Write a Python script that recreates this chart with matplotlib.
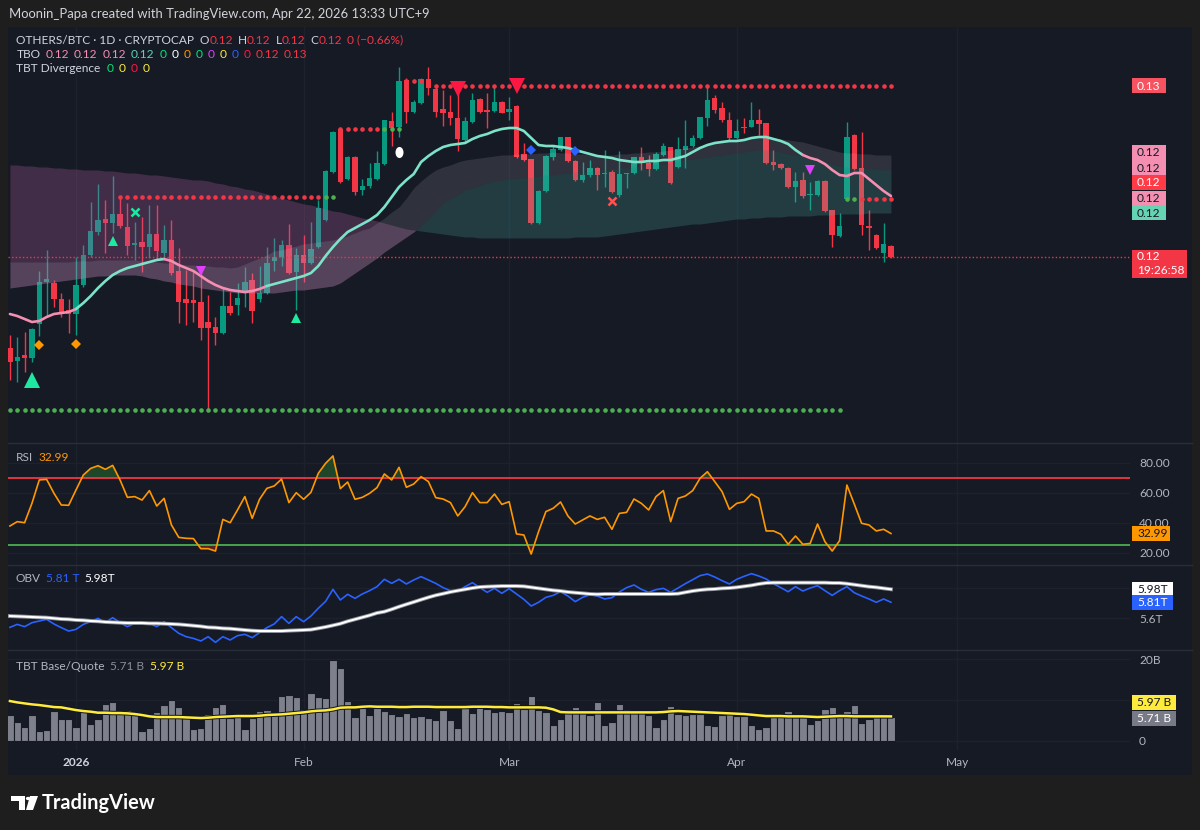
import numpy as np
import matplotlib
matplotlib.use("Agg")
import matplotlib.pyplot as plt
import matplotlib.dates as mdates
from matplotlib.patches import Rectangle, Polygon, Circle
from matplotlib.path import Path
from matplotlib.lines import Line2D

plt.rcParams['font.family'] = ['Lato', 'DejaVu Sans']

# ---------------------------------------------------------------- data
first_day = np.datetime64('2025-12-23')          # daily bars, Dec 23 2025 .. Apr 22 2026
n_bars = 121
dates = first_day + np.arange(n_bars)

# OTHERS/BTC prices, in units of 1e-4
open_e4 = [1072, 1059, 1065, 1062, 1096, 1138, 1137, 1121, 1110, 1106,
           1135, 1165, 1188, 1201, 1197, 1206, 1193, 1175, 1178, 1173,
           1186, 1167, 1180, 1149, 1121, 1120, 1118, 1098, 1093, 1087,
           1114, 1115, 1127, 1140, 1121, 1127, 1159, 1163, 1175, 1148,
           1165, 1157, 1173, 1200, 1248, 1291, 1241, 1263, 1230, 1234,
           1241, 1256, 1299, 1293, 1340, 1308, 1317, 1341, 1331, 1311,
           1308, 1302, 1280, 1298, 1321, 1310, 1309, 1318, 1308, 1314,
           1266, 1261, 1197, 1229, 1263, 1270, 1283, 1259, 1240, 1245,
           1252, 1246, 1248, 1225, 1246, 1247, 1263, 1257, 1251, 1265,
           1273, 1253, 1270, 1274, 1282, 1302, 1322, 1312, 1300, 1282,
           1293, 1293, 1300, 1297, 1258, 1256, 1252, 1233, 1240, 1225,
           1225, 1239, 1210, 1184, 1221, 1285, 1252, 1194, 1185, 1167,
           1174]
high_e4 = [1085, 1083, 1088, 1092, 1149, 1170, 1140, 1127, 1121, 1163,
           1175, 1218, 1236, 1220, 1244, 1224, 1217, 1198, 1203, 1215,
           1215, 1195, 1200, 1172, 1150, 1150, 1147, 1125, 1103, 1132,
           1128, 1137, 1153, 1147, 1154, 1173, 1182, 1180, 1196, 1172,
           1185, 1198, 1220, 1250, 1289, 1292, 1264, 1264, 1241, 1257,
           1269, 1300, 1308, 1353, 1342, 1320, 1342, 1353, 1333, 1330,
           1325, 1328, 1303, 1327, 1322, 1327, 1333, 1319, 1323, 1315,
           1277, 1261, 1230, 1265, 1275, 1283, 1283, 1260, 1258, 1260,
           1253, 1270, 1250, 1269, 1247, 1263, 1273, 1265, 1268, 1277,
           1273, 1283, 1300, 1285, 1303, 1333, 1325, 1318, 1308, 1301,
           1302, 1318, 1311, 1297, 1270, 1257, 1253, 1248, 1248, 1238,
           1240, 1240, 1210, 1207, 1298, 1286, 1288, 1210, 1186, 1197,
           1175]
low_e4 = [1040, 1038, 1048, 1058, 1084, 1103, 1113, 1103, 1087, 1085,
          1133, 1163, 1185, 1167, 1187, 1192, 1165, 1160, 1148, 1162,
          1160, 1163, 1145, 1097, 1095, 1098, 1080, 1011, 1075, 1086,
          1105, 1105, 1113, 1097, 1118, 1126, 1149, 1154, 1146, 1110,
          1138, 1156, 1172, 1199, 1247, 1237, 1240, 1225, 1225, 1232,
          1240, 1255, 1274, 1283, 1297, 1307, 1316, 1325, 1303, 1294,
          1295, 1269, 1278, 1297, 1307, 1292, 1308, 1307, 1300, 1262,
          1259, 1196, 1196, 1228, 1260, 1269, 1258, 1239, 1238, 1243,
          1230, 1233, 1227, 1223, 1232, 1246, 1250, 1244, 1250, 1264,
          1236, 1252, 1252, 1273, 1281, 1294, 1307, 1298, 1280, 1281,
          1287, 1293, 1285, 1256, 1250, 1251, 1232, 1218, 1222, 1210,
          1224, 1208, 1173, 1183, 1220, 1250, 1185, 1170, 1171, 1158,
          1162]
close_e4 = [1058, 1063, 1062, 1091, 1138, 1141, 1121, 1106, 1106, 1135,
            1165, 1189, 1200, 1197, 1206, 1194, 1174, 1177, 1173, 1186,
            1169, 1180, 1147, 1118, 1117, 1117, 1092, 1092, 1087, 1114,
            1107, 1122, 1138, 1109, 1127, 1157, 1163, 1175, 1147, 1165,
            1157, 1171, 1212, 1249, 1288, 1238, 1263, 1228, 1234, 1242,
            1257, 1300, 1292, 1339, 1308, 1318, 1341, 1332, 1308, 1307,
            1302, 1281, 1299, 1320, 1308, 1308, 1318, 1307, 1311, 1263,
            1260, 1197, 1229, 1264, 1271, 1283, 1259, 1240, 1245, 1252,
            1245, 1247, 1228, 1246, 1247, 1263, 1258, 1251, 1266, 1274,
            1237, 1271, 1274, 1282, 1303, 1320, 1310, 1300, 1282, 1289,
            1292, 1300, 1296, 1257, 1255, 1252, 1233, 1239, 1224, 1226,
            1239, 1209, 1185, 1194, 1283, 1251, 1195, 1192, 1172, 1176,
            1163]

# TBO lines (1e-4 units): fast line and the three cloud lines
tbo_fast_e4 = [1106, 1104, 1101, 1098, 1099, 1103, 1106, 1107, 1108, 1111,
               1117, 1124, 1132, 1139, 1145, 1149, 1152, 1154, 1156, 1158,
               1160, 1161, 1159, 1155, 1152, 1149, 1144, 1139, 1135, 1132,
               1130, 1129, 1128, 1129, 1131, 1134, 1136, 1138, 1140, 1142,
               1144, 1147, 1154, 1164, 1173, 1181, 1188, 1192, 1196, 1200,
               1205, 1213, 1223, 1233, 1240, 1246, 1258, 1264, 1269, 1273,
               1275, 1276, 1277, 1281, 1284, 1286, 1289, 1291, 1292, 1292,
               1289, 1282, 1275, 1274, 1274, 1273, 1272, 1270, 1268, 1266,
               1264, 1263, 1262, 1260, 1259, 1258, 1258, 1259, 1259, 1260,
               1260, 1262, 1264, 1268, 1272, 1275, 1277, 1278, 1279, 1279,
               1280, 1282, 1283, 1283, 1281, 1279, 1276, 1270, 1265, 1262,
               1260, 1256, 1250, 1245, 1244, 1247, 1247, 1241, 1235, 1229,
               1224]
tbo_slow_e4 = [1255, 1255, 1254, 1254, 1253, 1253, 1252, 1252, 1251, 1251,
               1250, 1250, 1250, 1249, 1249, 1248, 1247, 1247, 1246, 1245,
               1245, 1244, 1243, 1242, 1241, 1240, 1240, 1239, 1237, 1236,
               1234, 1233, 1231, 1230, 1228, 1226, 1224, 1222, 1220, 1218,
               1216, 1215, 1213, 1211, 1209, 1208, 1206, 1204, 1202, 1201,
               1199, 1197, 1195, 1193, 1191, 1190, 1189, 1188, 1187, 1186,
               1185, 1184, 1183, 1183, 1182, 1182, 1182, 1182, 1182, 1182,
               1182, 1182, 1182, 1182, 1182, 1182, 1182, 1183, 1183, 1183,
               1183, 1184, 1185, 1186, 1187, 1188, 1189, 1190, 1191, 1192,
               1193, 1194, 1195, 1196, 1196, 1197, 1198, 1199, 1200, 1201,
               1201, 1202, 1202, 1203, 1203, 1203, 1204, 1204, 1204, 1204,
               1205, 1205, 1205, 1206, 1206, 1206, 1206, 1207, 1207, 1207,
               1207]
tbo_mid_e4 = [1158, 1158, 1158, 1158, 1158, 1158, 1158, 1158, 1158, 1159,
              1159, 1159, 1160, 1160, 1160, 1160, 1160, 1160, 1159, 1159,
              1158, 1157, 1157, 1156, 1155, 1155, 1154, 1154, 1153, 1153,
              1152, 1153, 1156, 1159, 1162, 1165, 1169, 1170, 1172, 1174,
              1176, 1177, 1178, 1179, 1180, 1182, 1184, 1187, 1190, 1192,
              1197, 1202, 1208, 1213, 1222, 1232, 1239, 1245, 1250, 1253,
              1255, 1258, 1260, 1261, 1262, 1263, 1264, 1265, 1265, 1266,
              1266, 1266, 1267, 1267, 1268, 1267, 1267, 1266, 1266, 1265,
              1265, 1265, 1265, 1266, 1266, 1267, 1267, 1268, 1268, 1269,
              1270, 1271, 1272, 1273, 1274, 1276, 1277, 1278, 1279, 1280,
              1281, 1282, 1283, 1283, 1282, 1281, 1280, 1279, 1278, 1276,
              1274, 1272, 1270, 1268, 1267, 1267, 1266, 1266, 1265, 1265,
              1265]
tbo_base_e4 = [1132, 1133, 1134, 1135, 1136, 1137, 1138, 1139, 1140, 1141,
               1142, 1143, 1144, 1144, 1145, 1145, 1145, 1145, 1144, 1142,
               1141, 1139, 1138, 1136, 1135, 1134, 1132, 1131, 1130, 1129,
               1128, 1127, 1127, 1127, 1127, 1127, 1127, 1128, 1129, 1130,
               1130, 1131, 1132, 1133, 1134, 1137, 1142, 1147, 1152, 1157,
               1162, 1168, 1173, 1178, 1183, 1188, 1194, 1201, 1209, 1217,
               1221, 1225, 1230, 1232, 1234, 1237, 1239, 1240, 1241, 1242,
               1242, 1243, 1244, 1245, 1245, 1246, 1247, 1248, 1248, 1249,
               1250, 1250, 1251, 1252, 1252, 1253, 1254, 1255, 1256, 1256,
               1257, 1259, 1260, 1261, 1262, 1263, 1264, 1265, 1266, 1267,
               1268, 1269, 1270, 1270, 1269, 1268, 1266, 1265, 1264, 1262,
               1260, 1258, 1256, 1254, 1253, 1252, 1252, 1251, 1251, 1250,
               1250]
# fast-line colour regime changes (day offset from 2026-01-01, colour)
fast_regimes = [(-9, 'bear'), (0, 'bull'), (12, 'bear'), (26, 'bull'), (99, 'bear')]

# TBO support / resistance dots: (level e4, first day, last day, kind)
tbo_levels = [(1223, 6, 33, 'res'), (1223, 34, 35, 'sup'),
              (1291, 36, 41, 'res'), (1291, 42, 44, 'sup'),
              (1339, 45, 47, 'res'), (1334, 49, 111, 'res'),
              (1221, 105, 106, 'sup'), (1221, 107, 111, 'res'),
              (1010, -9, 104, 'sup')]

# TBO signal markers: (day offset, price e4, kind)
tbo_signals = [(-6, 1040, 'big_up'), (-5, 1075, 'orange_d'), (0, 1076, 'orange_d'),
               (5, 1179, 'up'), (30, 1102, 'up'), (8, 1208, 'green_x'),
               (17, 1149, 'magenta_dn'), (100, 1250, 'magenta_dn'),
               (44, 1268, 'white_drop'), (52, 1331, 'big_dn'), (60, 1334, 'big_dn'),
               (62, 1270, 'blue_d'), (68, 1269, 'blue_d'), (73, 1219, 'red_x')]

rsi = [38.0, 40.9, 40.2, 53.1, 68.7, 69.1, 59.8, 52.0, 51.8, 62.0,
       72.0, 76.4, 78.2, 75.8, 78.4, 68.7, 57.1, 57.6, 55.3, 61.6,
       51.3, 56.4, 38.7, 30.4, 29.8, 29.6, 22.9, 22.9, 21.3, 42.4,
       40.2, 48.7, 57.6, 43.1, 55.8, 63.1, 64.7, 69.3, 53.6, 60.2,
       55.8, 60.4, 73.1, 79.8, 84.7, 62.9, 67.3, 55.8, 57.1, 59.8,
       63.6, 72.7, 68.7, 77.1, 63.8, 66.0, 70.9, 67.6, 56.9, 56.0,
       53.6, 44.7, 50.9, 60.2, 53.6, 53.6, 59.3, 52.4, 54.2, 32.7,
       32.0, 19.3, 34.2, 47.6, 49.8, 54.0, 44.7, 39.3, 42.0, 44.7,
       42.4, 43.8, 35.8, 46.4, 47.1, 56.0, 53.1, 48.7, 57.6, 61.6,
       40.9, 56.4, 58.0, 61.6, 69.8, 74.2, 67.6, 60.9, 49.1, 53.1,
       54.2, 59.3, 56.4, 34.7, 34.7, 32.5, 25.8, 31.3, 25.8, 26.4,
       39.3, 27.6, 21.3, 28.2, 65.3, 52.7, 39.8, 38.7, 34.7, 35.8,
       32.99]
rsi_upper, rsi_lower = 70, 25

obv_T = [5.482, 5.521, 5.491, 5.543, 5.565, 5.587, 5.526, 5.478, 5.434, 5.456,
         5.521, 5.556, 5.600, 5.543, 5.609, 5.543, 5.491, 5.534, 5.526, 5.534,
         5.491, 5.556, 5.478, 5.404, 5.360, 5.338, 5.304, 5.360, 5.286, 5.360,
         5.317, 5.373, 5.391, 5.347, 5.413, 5.478, 5.526, 5.622, 5.534, 5.622,
         5.556, 5.630, 5.731, 5.822, 5.979, 5.840, 5.914, 5.861, 5.918, 5.962,
         6.014, 6.110, 6.057, 6.110, 6.049, 6.101, 6.145, 6.101, 6.057, 6.001,
         5.962, 5.957, 6.014, 6.066, 6.001, 5.940, 5.992, 5.927, 5.988, 5.918,
         5.848, 5.761, 5.809, 5.874, 5.900, 5.948, 5.892, 5.818, 5.874, 5.909,
         5.892, 5.853, 5.870, 5.944, 6.001, 6.036, 5.979, 5.940, 5.975, 5.992,
         5.940, 5.996, 6.053, 6.105, 6.158, 6.179, 6.140, 6.092, 6.049, 6.110,
         6.149, 6.184, 6.153, 6.114, 6.053, 6.001, 5.948, 6.014, 5.957, 5.996,
         6.027, 5.962, 5.900, 5.962, 6.014, 5.935, 5.892, 5.853, 5.809, 5.853,
         5.81]
obv_ma_T = [5.630, 5.626, 5.622, 5.617, 5.613, 5.609, 5.600, 5.591, 5.587, 5.578,
            5.574, 5.565, 5.561, 5.552, 5.548, 5.543, 5.539, 5.539, 5.539, 5.534,
            5.534, 5.530, 5.526, 5.521, 5.513, 5.504, 5.495, 5.482, 5.478, 5.469,
            5.465, 5.456, 5.447, 5.439, 5.434, 5.434, 5.434, 5.434, 5.439, 5.443,
            5.447, 5.452, 5.469, 5.487, 5.508, 5.530, 5.561, 5.587, 5.613, 5.639,
            5.670, 5.687, 5.718, 5.752, 5.783, 5.813, 5.844, 5.874, 5.901, 5.922,
            5.944, 5.962, 5.979, 5.996, 6.009, 6.014, 6.018, 6.022, 6.022, 6.022,
            6.018, 6.005, 5.992, 5.979, 5.966, 5.957, 5.944, 5.935, 5.927, 5.918,
            5.914, 5.918, 5.918, 5.918, 5.918, 5.918, 5.918, 5.918, 5.918, 5.918,
            5.918, 5.922, 5.940, 5.957, 5.970, 5.979, 5.983, 5.992, 5.996, 6.005,
            6.018, 6.031, 6.049, 6.062, 6.066, 6.066, 6.066, 6.066, 6.066, 6.066,
            6.066, 6.066, 6.062, 6.062, 6.053, 6.040, 6.027, 6.014, 6.005, 5.992,
            5.98]

vol_B = [6.31, 4.50, 3.36, 6.31, 2.38, 2.70, 7.29, 5.41, 5.41, 3.36,
         7.94, 4.10, 5.41, 9.01, 9.42, 7.53, 7.45, 6.31, 2.38, 3.19,
         7.13, 8.85, 10.07, 8.35, 5.49, 2.87, 3.19, 6.63, 8.27, 9.01,
         5.65, 6.88, 2.87, 5.65, 7.29, 7.45, 6.31, 11.06, 11.30, 10.81,
         7.86, 11.71, 10.73, 10.40, 19.74, 17.94, 9.75, 5.81, 7.94, 6.31,
         7.94, 7.29, 6.63, 6.06, 6.72, 5.73, 6.06, 5.65, 5.16, 7.62,
         5.00, 3.19, 7.94, 6.72, 8.93, 7.78, 6.96, 7.37, 7.13, 9.25,
         7.78, 10.97, 7.53, 6.96, 3.85, 5.24, 7.70, 8.19, 7.29, 6.31,
         9.50, 3.85, 4.59, 9.01, 7.78, 7.53, 6.96, 6.31, 3.36, 5.24,
         8.52, 6.63, 6.31, 6.63, 6.63, 3.77, 3.60, 6.31, 6.63, 6.14,
         6.14, 3.85, 2.87, 3.36, 6.14, 6.80, 7.29, 5.81, 5.81, 4.18,
         5.00, 7.86, 8.27, 5.81, 7.29, 8.76, 4.42, 5.24, 6.06, 6.06,
         5.71]
vol_ma_B = [9.75, 9.42, 9.17, 8.93, 8.76, 8.52, 8.27, 8.19, 7.86, 7.53,
            7.29, 7.13, 6.88, 6.88, 6.80, 6.80, 6.72, 6.55, 6.31, 5.98,
            5.81, 5.81, 5.81, 5.81, 5.73, 5.65, 5.57, 5.65, 5.81, 5.90,
            5.98, 6.06, 6.06, 6.06, 6.14, 6.31, 6.39, 6.47, 6.63, 6.80,
            6.96, 7.21, 7.37, 7.45, 7.70, 8.11, 8.19, 8.19, 8.35, 8.44,
            8.35, 8.35, 8.35, 8.27, 8.27, 8.35, 8.35, 8.35, 8.27, 8.27,
            8.27, 8.27, 8.27, 8.35, 8.35, 8.35, 8.27, 8.27, 8.19, 8.19,
            8.19, 8.19, 8.19, 8.11, 7.70, 7.04, 6.96, 6.96, 6.96, 6.96,
            6.96, 6.96, 6.96, 6.96, 6.96, 6.96, 6.96, 6.96, 6.96, 7.04,
            7.21, 7.29, 7.21, 7.13, 7.04, 6.96, 6.88, 6.80, 6.72, 6.63,
            6.55, 6.39, 6.22, 6.06, 6.06, 6.06, 5.98, 5.98, 5.98, 5.90,
            5.81, 5.90, 5.98, 6.06, 6.06, 5.98, 5.98, 5.98, 5.98, 5.98,
            5.97]

month_ticks = ['2026-01-01', '2026-02-01', '2026-03-01', '2026-04-01', '2026-05-01']
month_labels = ['2026', 'Feb', 'Mar', 'Apr', 'May']

for arr in (open_e4, high_e4, low_e4, close_e4, tbo_fast_e4, tbo_slow_e4, tbo_mid_e4,
            tbo_base_e4, rsi, obv_T, obv_ma_T, vol_B, vol_ma_B):
    assert len(arr) == n_bars, len(arr)

# ---------------------------------------------------------------- style
W, H = 1200, 830
OUTER = '#1e1e1e'
BG = '#161a25'
GRID = '#1d212c'
SEP = '#2a2e39'
TXT = '#b2b5be'
LIGHT = '#d1d4dc'
GREEN = '#089981'
RED = '#f23645'
PINK = '#f48fb1'
TEAL = '#7de3c8'
FS = 8.6

fig = plt.figure(figsize=(W / 100, H / 100), dpi=100, facecolor=OUTER)
fig.patches.append(Rectangle((8 / W, 1 - 775 / H), 1184 / W, 748 / H,
                             transform=fig.transFigure, facecolor=BG,
                             edgecolor='none', zorder=-5))
renderer = fig.canvas.get_renderer()

x = mdates.date2num(dates)
jan1 = mdates.date2num(np.datetime64('2026-01-01'))
day = lambda d: jan1 + d
xlim = (jan1 - 9.26, jan1 + 143.56)
mx = mdates.date2num(np.array(month_ticks, dtype='datetime64[D]'))


def pane(top, bottom):
    ax = fig.add_axes([8 / W, 1 - bottom / H, 1122 / W, (bottom - top) / H])
    ax.set_facecolor(BG)
    for s in ax.spines.values():
        s.set_visible(False)
    ax.set_xlim(*xlim)
    ax.tick_params(axis='x', length=0, labelbottom=False)
    ax.tick_params(axis='y', length=0, labelleft=False)
    for m in mx:
        ax.axvline(m, color=GRID, lw=1, zorder=0.5)
    return ax


def to_px(ax, xv, yv):
    X, Y = ax.transData.transform((xv, yv))
    return X, H - Y


def tag(y, text, bg, fg, x0=1132, x1=1166, h=15, size=FS):
    fig.patches.append(Rectangle((x0 / W, 1 - (y + h / 2) / H), (x1 - x0) / W, h / H,
                                 transform=fig.transFigure, facecolor=bg,
                                 edgecolor='none', zorder=5))
    fig.text((x0 + 5) / W, 1 - y / H, text, color=fg, fontsize=size,
             ha='left', va='center', zorder=6)


def legend(y, parts, size=FS):
    # parts: (preferred left pixel, text, colour, minimum gap to previous part)
    end = -1e9
    for x0, txt, col, gap in parts:
        xs = max(x0, end + gap)
        t = fig.text(xs / W, 1 - y / H, txt, color=col, fontsize=size, ha='left', va='center')
        end = xs + t.get_window_extent(renderer=renderer).width


# ---------------------------------------------------------------- price pane
o = np.array(open_e4) / 1e4
c = np.array(close_e4) / 1e4
hi = np.maximum(np.array(high_e4) / 1e4, np.maximum(o, c))
lo = np.minimum(np.array(low_e4) / 1e4, np.minimum(o, c))
fast = np.array(tbo_fast_e4) / 1e4
slow = np.array(tbo_slow_e4) / 1e4
mid = np.array(tbo_mid_e4) / 1e4
base = np.array(tbo_base_e4) / 1e4

axp = pane(27, 443)
axp.set_ylim(0.0977, 0.1393)
up = c >= o
cols = np.where(up, GREEN, RED)
axp.vlines(x, lo, hi, colors=cols, lw=1.0, zorder=2)
axp.bar(x, np.maximum(np.abs(c - o), 0.00012), bottom=np.minimum(o, c), width=0.74,
        color=cols, lw=0, zorder=3)

bear = slow >= base
axp.fill_between(x, slow, base, where=bear, interpolate=True, color='#b45fa4',
                 alpha=0.28, lw=0, zorder=4)
axp.fill_between(x, slow, base, where=~bear, interpolate=True, color='#4db6ac',
                 alpha=0.22, lw=0, zorder=4)
axp.fill_between(x, mid, base, color='#e8dce6', alpha=0.12, lw=0, zorder=4)

d_idx = np.arange(n_bars) - 9
starts = [r[0] for r in fast_regimes] + [int(d_idx[-1])]
for k, (d0, kind) in enumerate(fast_regimes):
    d1 = starts[k + 1]
    sel = (d_idx >= d0) & (d_idx <= d1)
    axp.plot(x[sel], fast[sel], color=PINK if kind == 'bear' else TEAL, lw=1.9,
             solid_capstyle='round', zorder=6)

for lvl, d0, d1, kind in tbo_levels:
    dd = np.arange(d0, d1 + 1)
    axp.plot(day(dd), np.full(dd.size, lvl / 1e4), ls='none', marker='o', ms=3.3,
             mew=0, color=RED if kind == 'res' else '#4caf50', zorder=7)

circ = Path.unit_circle()
drop = Path(circ.vertices * np.array([0.72, 1.0]), circ.codes)
sig_style = {
    'big_up': dict(marker='^', ms=11, color='#1de9a0'),
    'up': dict(marker='^', ms=6.5, color='#1de9a0'),
    'orange_d': dict(marker='D', ms=5, color='#ff9800'),
    'green_x': dict(marker='x', ms=6, mew=1.8, color='#1de9a0'),
    'magenta_dn': dict(marker='v', ms=7, color='#e040fb'),
    'white_drop': dict(marker=drop, ms=8, color='#ffffff'),
    'big_dn': dict(marker='v', ms=11, color='#ff1744'),
    'blue_d': dict(marker='D', ms=5, color='#2962ff'),
    'red_x': dict(marker='x', ms=6, mew=1.8, color='#ff5252'),
}
for d, p, kind in tbo_signals:
    st = dict(sig_style[kind])
    axp.plot([day(d)], [p / 1e4], ls='none', zorder=8, mew=st.pop('mew', 0), **st)

axp.axhline(c[-1], color=RED, lw=1.0, ls=(0, (1, 1.6)), zorder=5)

# ---------------------------------------------------------------- RSI
axr = pane(443, 565)
axr.set_ylim(12.0, 93.33)
r = np.array(rsi)
for v in (20, 40, 60, 80):
    axr.axhline(v, color=GRID, lw=1, zorder=0.5)
axr.axhline(rsi_upper, color=RED, lw=1.3, zorder=2)
axr.axhline(rsi_lower, color='#4caf50', lw=1.3, zorder=2)
axr.fill_between(x, r, rsi_upper, where=r > rsi_upper, interpolate=True,
                 color='#2e7d32', alpha=0.45, lw=0, zorder=1)
axr.fill_between(x, r, rsi_lower, where=r < rsi_lower, interpolate=True,
                 color='#c62828', alpha=0.40, lw=0, zorder=1)
axr.plot(x, r, color='#ff9800', lw=1.2, zorder=3)
axr.yaxis.tick_right()
axr.set_yticks([20, 40, 60, 80])
axr.set_yticklabels(['20.00', '40.00', '60.00', '80.00'])
axr.tick_params(axis='y', labelright=True, length=0, pad=6.5, labelcolor=TXT, labelsize=FS)

# ---------------------------------------------------------------- OBV
axo = pane(565, 650)
axo.set_ylim(5.186, 6.297)
for v in (5.6, 6.0):
    axo.axhline(v, color=GRID, lw=1, zorder=0.5)
axo.plot(x, obv_T, color='#2962ff', lw=1.2, zorder=3)
axo.plot(x, obv_ma_T, color='#8c8f99', lw=2.8, zorder=3)
axo.plot(x, obv_ma_T, color='#ffffff', lw=1.5, zorder=3)
axo.yaxis.tick_right()
axo.set_yticks([5.6])
axo.set_yticklabels(['5.6T'])
axo.tick_params(axis='y', labelright=True, length=0, pad=6.5, labelcolor=TXT, labelsize=FS)

# ---------------------------------------------------------------- volume
axv = pane(650, 750)
axv.set_ylim(-2.29, 22.3)
for v in (0, 10, 20):
    axv.axhline(v, color=GRID, lw=1, zorder=0.5)
axv.bar(x, vol_B, width=1.0, color='#7e818c', edgecolor=BG, lw=0.8, zorder=2)
axv.plot(x, vol_ma_B, color='#131722', lw=3.2, zorder=3)
axv.plot(x, vol_ma_B, color='#ffeb3b', lw=1.8, zorder=3)
axv.yaxis.tick_right()
axv.set_yticks([0, 20])
axv.set_yticklabels(['0', '20B'])
axv.tick_params(axis='y', labelright=True, length=0, pad=6.5, labelcolor=TXT, labelsize=FS)

# ---------------------------------------------------------------- separators
for yy in (443, 565, 650):
    fig.add_artist(Line2D([8 / W, 1192 / W], [1 - yy / H, 1 - yy / H], color=SEP,
                          lw=1, transform=fig.transFigure, zorder=4))

# ---------------------------------------------------------------- time axis
for m, lab in zip(mx, month_labels):
    X, _ = to_px(axv, m, 0)
    fig.text(X / W, 1 - 762 / H, lab, color=LIGHT if lab == '2026' else TXT,
             fontsize=FS, fontweight='bold' if lab == '2026' else 'normal',
             ha='center', va='center')

# ---------------------------------------------------------------- legends
fig.text(9 / W, 1 - 14 / H, 'Moonin_Papa created with TradingView.com, Apr 22, 2026 13:33 UTC+9',
         color=LIGHT, fontsize=9.4, ha='left', va='center')
legend(40, [(16.5, 'OTHERS/BTC · 1D · CRYPTOCAP', LIGHT, 0),
            (175.5, 'O', LIGHT, 5), (183, '0.12', RED, 0.3), (210.5, 'H', LIGHT, 5),
            (218, '0.12', RED, 0.3), (245.5, 'L', LIGHT, 5), (252, '0.12', RED, 0.3),
            (278.5, 'C', LIGHT, 5), (286, '0.12', RED, 0.3), (313, '0 (−0.66%)', RED, 5)])
legend(54, [(16.5, 'TBO', LIGHT, 0), (43, '0.12', PINK, 5), (70, '0.12', PINK, 5),
            (97.5, '0.12', PINK, 5), (125, '0.12', '#5fd3b0', 5), (154, '0', '#00e676', 5),
            (166.5, '0', '#ffffff', 5), (179, '0', '#ff9800', 5), (192, '0', '#00e676', 5),
            (204.5, '0', '#e040fb', 5), (217, '0', '#ffeb3b', 5), (229.5, '0', '#2962ff', 5),
            (242, '0', '#ff1744', 5), (252, '0.12', RED, 5), (280, '0.13', RED, 5)])
legend(69, [(16.5, 'TBT Divergence', LIGHT, 0), (101.5, '0', '#00e676', 6),
            (113.5, '0', '#ffeb3b', 5), (126, '0', '#ff1744', 5), (138, '0', '#ffeb3b', 5)])
legend(457, [(16, 'RSI', TXT, 0), (38, '32.99', '#ff9800', 5)])
legend(578, [(16, 'OBV', TXT, 0), (43, '5.81 T', '#2962ff', 5), (78, '5.98T', '#ffffff', 5)])
legend(666, [(16, 'TBT Base/Quote', TXT, 0), (103, '5.71 B', '#8a8d97', 6),
             (137, '5.97 B', '#ffeb3b', 5)])

# ---------------------------------------------------------------- right-side tags
_, y_res = to_px(axp, x[-1], 0.1334)
tag(y_res, '0.13', '#f7525f', '#ffffff')
for yy, txt, bg, fg in [(153, '0.12', PINK, '#131722'), (168, '0.12', PINK, '#131722'),
                        (183, '0.12', '#ff3b47', '#ffffff'), (198, '0.12', PINK, '#131722'),
                        (213, '0.12', '#66d3b3', '#131722')]:
    tag(yy, txt, bg, fg)
_, y_last = to_px(axp, x[-1], c[-1])
fig.patches.append(Rectangle((1132 / W, 1 - (y_last + 21) / H), 55 / W, 28 / H,
                             transform=fig.transFigure, facecolor=RED, edgecolor='none', zorder=5))
fig.text(1137 / W, 1 - y_last / H, '0.12', color='white', fontsize=FS, va='center', zorder=6)
fig.text(1137 / W, 1 - (y_last + 13) / H, '19:26:58', color='white', fontsize=FS, va='center', zorder=6)

_, y_rsi = to_px(axr, x[-1], r[-1])
tag(y_rsi, '32.99', '#ff9800', '#131722', x1=1170)
_, y_ma = to_px(axo, x[-1], obv_ma_T[-1])
_, y_obv = to_px(axo, x[-1], obv_T[-1])
tag(y_ma, '5.98T', '#ffffff', '#131722', x1=1173)
tag(y_obv, '5.81T', '#2962ff', '#ffffff', x1=1173)
tag(702, '5.97 B', '#ffeb3b', '#131722', x1=1176)
tag(718, '5.71 B', '#787b86', '#ffffff', x1=1176)

# ---------------------------------------------------------------- TradingView logo
logo = [[(11, 796), (25, 796), (25, 810), (19, 810), (19, 801), (11, 801)],
        [(30, 796), (38, 796), (33, 810), (26, 810)]]
for xy in logo:
    fig.patches.append(Polygon([(a / W, 1 - b / H) for a, b in xy], closed=True,
                               transform=fig.transFigure, facecolor='#ffffff',
                               edgecolor='none', zorder=5))
fig.patches.append(Circle((28.2 / W, 1 - 798.5 / H), 2.4 / W, transform=fig.transFigure,
                          facecolor='#ffffff', edgecolor='none', zorder=5))
fig.text(42 / W, 1 - 803 / H, 'TradingView', color='#ffffff', fontsize=14.4,
         fontweight='bold', ha='left', va='center')

fig.savefig('out.png', dpi=100, facecolor=OUTER)
